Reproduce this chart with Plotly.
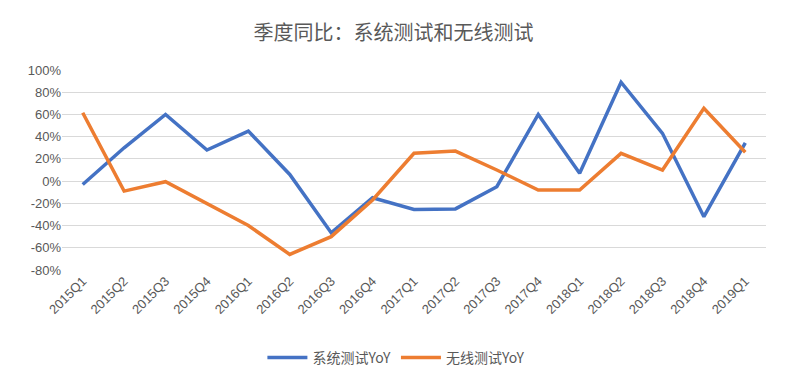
import plotly.graph_objects as go

quarters = ["2015Q1","2015Q2","2015Q3","2015Q4","2016Q1","2016Q2","2016Q3","2016Q4",
            "2017Q1","2017Q2","2017Q3","2017Q4","2018Q1","2018Q2","2018Q3","2018Q4","2019Q1"]
system_yoy = [-3, 30, 60, 28, 45, 6, -46.5, -15, -25.5, -25, -5, 60, 7, 89, 43, -32, 34.5]
wireless_yoy = [61.5, -9, -0.5, -20, -40, -66, -50, -17, 25, 27, 10, -8, -8, 25, 10, 65.5, 26]
y_ticks = [-80, -60, -40, -20, 0, 20, 40, 60, 80, 100]
y_tick_text = [f"{v}%" for v in y_ticks]

font_cjk = "Noto Sans CJK SC, Liberation Sans, sans-serif"
grey = "#595959"

fig = go.Figure()
fig.add_trace(go.Scatter(x=quarters, y=system_yoy, mode="lines", name="系统测试YoY",
                         line=dict(color="#4472C4", width=3.5)))
fig.add_trace(go.Scatter(x=quarters, y=wireless_yoy, mode="lines", name="无线测试YoY",
                         line=dict(color="#ED7D31", width=3.5)))

fig.update_layout(
    width=787, height=386,
    margin=dict(l=62, r=21, t=70, b=116),
    paper_bgcolor="white", plot_bgcolor="white",
    title=dict(text="季度同比：系统测试和无线测试", x=0.5, xanchor="center", y=0.915, yanchor="middle",
               font=dict(family=font_cjk, size=20, color=grey)),
    font=dict(family=font_cjk, color=grey),
    showlegend=True,
    legend=dict(orientation="h", x=0.475, xanchor="center", y=-0.44, yanchor="middle",
                font=dict(family=font_cjk, size=14, color=grey), itemwidth=40),
    xaxis=dict(type="category", range=[-0.5, len(quarters) - 0.5], tickangle=-45, showgrid=False,
               zeroline=False, showline=False, ticks="",
               tickfont=dict(family="Liberation Sans, sans-serif", size=13, color=grey)),
    yaxis=dict(range=[-80, 100], tickvals=y_ticks, ticktext=y_tick_text, showgrid=True,
               gridcolor="#D9D9D9", gridwidth=1, zeroline=False, showline=False, ticks="",
               tickfont=dict(family="Liberation Sans, sans-serif", size=13, color=grey)),
)
fig.write_html("out.html")
